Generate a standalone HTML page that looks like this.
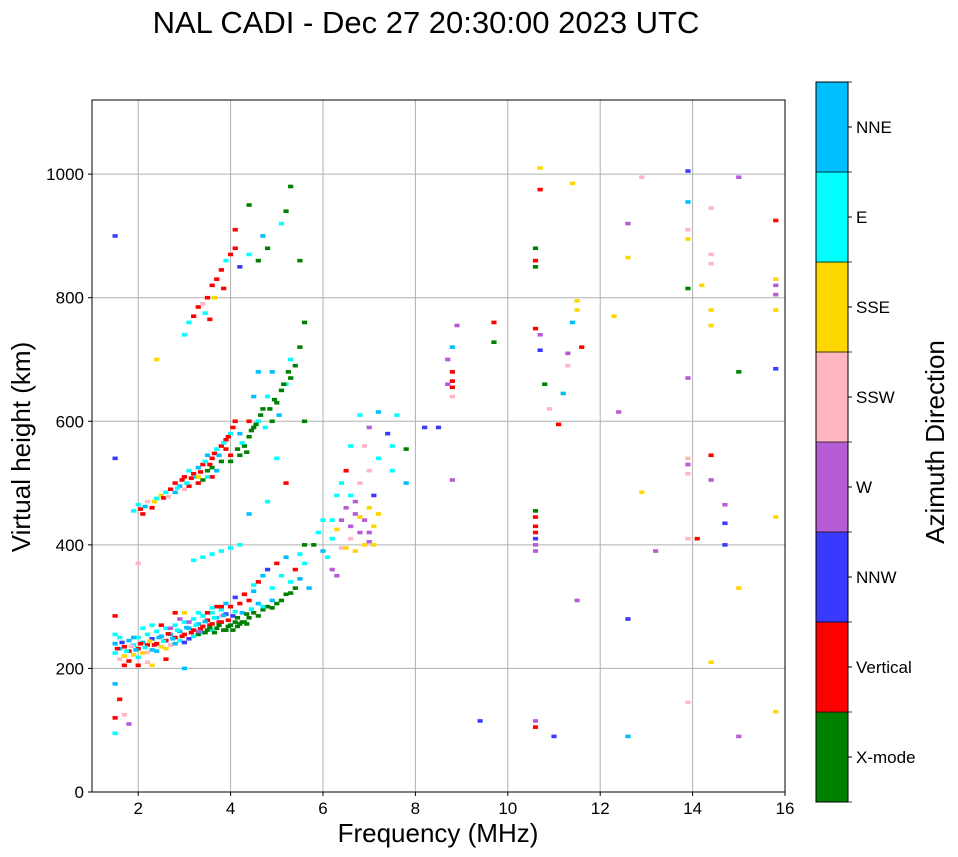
<!DOCTYPE html>
<html><head><meta charset="utf-8">
<style>
body{margin:0;background:#fff;font-family:"Liberation Sans",sans-serif;}
svg{display:block}
</style></head>
<body>
<svg id="chart" width="958" height="857" xmlns="http://www.w3.org/2000/svg">
<text x="426" y="33" font-size="31" text-anchor="middle">NAL CADI - Dec 27 20:30:00 2023 UTC</text>
<g id="grid"></g>
<g id="marks"></g>
<rect x="92" y="100" width="693" height="692" fill="none" stroke="#000" stroke-width="1"/>
<g id="axes" font-size="17"></g>
<text x="438" y="842" font-size="26" text-anchor="middle">Frequency (MHz)</text>
<text transform="translate(30,447) rotate(-90)" font-size="26" text-anchor="middle">Virtual height (km)</text>
<g id="cbar"></g>
<text transform="translate(944,442) rotate(-90)" font-size="26" text-anchor="middle">Azimuth Direction</text>
</svg>
<script>
const dirLabels = ["X-mode","Vertical","NNW","W","SSW","SSE","E","NNE"];
const dirColors = ["#008000","#ff0000","#3a3aff","#b65cd6","#ffb6c1","#ffd700","#00ffff","#00bfff"];
const xTicks = [2,4,6,8,10,12,14,16];
const yTicks = [0,200,400,600,800,1000];
// [freq MHz, height km, direction index]
const lowerTrace = [
[1.5,240,7],[1.5,225,6],[1.6,250,6],[1.6,215,4],[1.7,235,1],[1.7,220,5],[1.8,245,7],[1.8,228,1],[1.9,238,6],[1.9,222,5],
[2.0,250,6],[2.0,232,1],[2.1,242,7],[2.1,225,5],[2.2,255,6],[2.2,238,1],[2.3,248,2],[2.3,230,7],[2.4,260,6],[2.4,240,1],
[2.5,252,7],[2.5,235,5],[2.6,265,6],[2.6,245,1],[2.7,255,7],[2.7,238,4],[2.8,270,6],[2.8,250,1],[2.9,260,7],[2.9,245,6],
[3.0,275,6],[3.0,255,1],[3.1,265,7],[3.1,248,2],[3.2,280,6],[3.2,262,1],[3.3,272,7],[3.3,255,0],[3.4,285,6],[3.4,268,1],
[3.5,278,1],[3.5,262,0],[3.6,290,6],[3.6,272,1],[3.7,282,7],[3.7,265,0],[3.8,295,6],[3.8,275,1],[3.9,288,2],[3.9,262,0],
[4.0,300,1],[4.0,270,0],[4.1,292,6],[4.1,275,0],[4.2,272,0],[4.3,275,0],[4.4,310,1],[4.4,282,0],[4.5,325,7],[4.5,290,0],
[4.6,340,1],[4.6,285,0],[4.7,350,7],[4.7,295,0],[4.8,360,2],[4.8,300,0],[4.9,330,6],[4.9,298,0],[5.0,370,1],[5.0,305,0],
[5.1,350,6],[5.1,310,0],[5.2,380,7],[5.2,320,0],[5.3,340,6],[5.3,322,0],[5.4,360,1],[5.4,330,0],[5.5,345,7],[5.5,385,6],
[5.6,400,0],[5.6,370,6],[5.7,330,7],[5.8,400,0],[5.9,420,6],[6.0,440,6],[6.0,390,7],[6.1,380,6],[6.2,360,3],[6.3,350,3],
[1.6,232,7],[1.8,212,1],[2.0,218,6],[2.2,226,4],[2.4,228,7],[2.6,232,5],[2.8,240,7],[3.0,242,2],[3.2,252,6],[3.4,258,7],
[3.6,262,6],[3.8,285,4],[2.1,265,6],[2.5,270,1],[3.3,290,6],[3.7,300,1],[4.2,305,1],[1.7,205,1],[2.6,215,1],[1.5,255,6],
[1.55,232,1],[1.65,242,2],[1.75,228,6],[1.85,236,4],[1.95,230,7],[2.05,240,1],[2.15,234,6],[2.25,244,5],[2.35,238,1],[2.45,250,7],
[2.55,244,6],[2.65,256,1],[2.75,248,7],[2.85,262,6],[2.95,252,1],[3.05,266,7],[3.15,258,1],[3.25,270,6],[3.35,264,1],[3.45,276,7],
[3.55,270,1],[3.65,282,6],[3.75,275,1],[3.85,286,7],[3.95,278,1],[4.05,285,2],[4.15,282,0],[4.25,290,7],[4.35,288,0],[4.45,296,6],
[3.45,258,0],[3.55,266,0],[3.65,258,0],[3.75,270,0],[3.85,262,0],[3.95,268,0],[4.05,262,0],[4.15,268,0],[4.25,275,0],[4.35,272,0],
[3.5,290,1],[3.6,298,6],[3.8,300,1],[3.9,305,7],[4.1,315,2],[4.3,320,1],[4.5,335,6],[4.6,305,7],[4.7,300,6],[4.9,310,7],
[2.9,280,3],[3.1,275,3],[3.3,260,3],[2.7,265,3],[1.9,250,7],[2.3,270,6],[2.8,290,1],[3.0,290,5],[2.2,210,4],[2.0,205,1]
];
const clusterTrace = [
[6.2,410,6],[6.3,425,5],[6.4,440,3],[6.5,395,5],[6.5,460,3],[6.6,430,3],[6.6,480,6],[6.7,390,5],[6.7,450,3],[6.8,420,3],
[6.8,500,4],[6.9,400,5],[6.9,440,3],[7.0,460,5],[7.0,420,3],[7.0,520,4],[7.1,480,2],[7.1,400,5],[7.2,540,6],[6.4,500,6],
[6.5,520,1],[6.6,560,6],[6.9,560,4],[7.0,590,3],[7.2,450,5],[6.3,480,6],[7.5,520,6],[7.5,560,6],[7.8,500,7],[7.8,555,0],
[7.6,610,6],[7.4,580,2],[6.8,610,6],[6.6,410,4],[6.8,445,5],[7.0,405,3],[6.2,440,6],[6.4,395,4],[7.1,430,5],[6.7,470,3]
];
const secondHop = [
[1.9,455,6],[2.0,465,6],[2.1,450,1],[2.2,470,4],[2.3,460,1],[2.4,475,6],[2.5,480,5],[2.6,485,6],[2.7,490,1],[2.8,500,1],
[2.9,495,7],[3.0,510,1],[3.1,520,6],[3.2,515,1],[3.3,525,7],[3.4,530,1],[3.5,520,0],[3.5,545,7],[3.6,540,1],[3.7,555,6],
[3.8,560,1],[3.9,570,1],[4.0,535,0],[4.0,580,6],[4.1,600,1],[4.2,545,0],[4.3,560,0],[4.4,575,0],[4.5,590,0],[4.6,600,6],
[4.7,620,0],[4.8,640,6],[4.9,600,0],[5.0,630,0],[5.1,650,0],[5.2,660,6],[5.3,670,0],[5.4,690,0],[5.5,720,0],[5.3,700,6],
[4.5,640,7],[4.6,680,7],[4.9,680,7],[5.6,600,0],[5.6,760,0],[5.0,540,6],[5.2,500,1],[4.8,470,6],[4.4,450,7],[4.2,400,6],
[3.8,390,6],[3.4,380,6],[3.6,385,6],[4.0,395,6],[3.2,375,6],[3.3,500,1],[3.6,510,1],[2.8,485,7],[3.1,495,1],[3.9,555,1],
[2.05,458,1],[2.15,462,7],[2.35,470,5],[2.55,476,1],[2.65,478,4],[2.85,492,6],[2.95,505,1],[3.05,500,6],[3.15,508,1],[3.25,510,7],
[3.35,518,1],[3.45,535,6],[3.55,530,1],[3.65,548,1],[3.75,545,7],[3.85,565,6],[3.95,575,1],[4.05,590,1],[4.15,555,0],[4.25,565,6],
[4.35,550,0],[4.45,585,0],[4.55,595,0],[4.65,610,0],[4.75,590,6],[4.85,620,0],[4.95,635,0],[5.05,610,7],[5.15,660,0],[5.25,680,0],
[3.4,505,0],[3.6,525,0],[3.8,535,0],[4.0,545,1],[4.2,580,7],[4.4,600,1],[3.7,520,7],[3.5,510,6],[3.3,510,5],[3.0,490,4]
];
const thirdHop = [
[3.0,740,6],[3.1,760,6],[3.2,770,1],[3.3,785,1],[3.4,790,4],[3.5,800,1],[3.6,820,1],[3.7,830,1],[3.8,845,1],[3.9,860,6],
[4.0,870,1],[4.1,880,1],[4.2,850,2],[4.1,910,1],[4.4,870,6],[4.6,860,0],[4.8,880,0],[5.2,940,0],[5.3,980,0],[5.5,860,0],
[5.1,920,6],[4.4,950,0],[4.7,900,7],[3.45,775,6],[3.65,800,5],[3.85,815,1],[3.55,765,1]
];
const scatterEchoes = [
[1.5,900,2],[1.5,540,2],[1.5,120,1],[1.5,95,6],[1.6,150,1],[1.5,175,7],[1.7,125,4],[1.8,110,3],[1.5,285,1],[2.4,700,5],
[8.8,680,1],[8.8,665,1],[8.8,655,1],[8.8,640,4],[8.7,660,3],[8.7,700,3],[8.5,590,2],[8.2,590,2],[8.8,720,7],[8.9,755,3],
[8.8,505,3],[9.4,115,2],[9.7,760,1],[9.7,728,0],[10.6,880,0],[10.6,860,1],[10.6,850,0],[10.6,455,0],[10.6,445,1],[10.6,430,1],
[10.6,420,1],[10.6,410,2],[10.6,400,3],[10.6,390,3],[10.6,115,3],[10.6,105,1],[10.7,1010,5],[10.7,975,1],[10.6,750,1],[10.7,740,3],
[10.7,715,2],[10.8,660,0],[10.9,620,4],[11.1,595,1],[11.0,90,2],[11.2,645,7],[11.3,710,3],[11.3,690,4],[11.4,760,7],[11.4,985,5],
[11.5,795,5],[11.5,780,5],[11.6,720,1],[12.3,770,5],[12.4,615,3],[12.6,920,3],[12.6,865,5],[12.6,280,2],[12.6,90,7],[12.9,995,4],
[12.9,485,5],[13.2,390,3],[13.9,1005,2],[13.9,955,7],[13.9,910,4],[13.9,895,5],[13.9,815,0],[13.9,670,3],[13.9,540,4],[13.9,530,3],
[13.9,515,4],[13.9,410,4],[13.9,145,4],[14.1,410,1],[14.2,820,5],[14.4,945,4],[14.4,870,4],[14.4,855,4],[14.4,780,5],[14.4,755,5],
[14.4,545,1],[14.4,505,3],[14.4,210,5],[14.7,465,3],[14.7,400,2],[14.7,435,2],[15.0,995,3],[15.0,680,0],[15.0,330,5],[15.0,90,3],
[15.8,925,1],[15.8,830,5],[15.8,820,3],[15.8,805,3],[15.8,780,5],[15.8,685,2],[15.8,445,5],[15.8,130,5],[11.5,310,3],[7.2,615,7],
[2.0,370,4],[3.0,200,7],[2.3,205,5]
];

const NS="http://www.w3.org/2000/svg";
const X0=92,X1=785,Y0=792,Y1=100,FMIN=1,FMAX=16,HMIN=0,HMAX=1120;
function xScale(f){return X0+(f-FMIN)/(FMAX-FMIN)*(X1-X0);}
function yScale(h){return Y0-(h-HMIN)/(HMAX-HMIN)*(Y0-Y1);}
function mk(tag,attrs,parent){const e=document.createElementNS(NS,tag);for(const k in attrs)e.setAttribute(k,attrs[k]);parent.appendChild(e);return e;}

const grid=document.getElementById('grid'),axes=document.getElementById('axes');
xTicks.forEach(t=>{const x=xScale(t);
 const l=mk('line',{x1:x,x2:x,y1:Y1,y2:Y0,stroke:'#b0b0b0','stroke-width':1},grid);
 
 
 mk('line',{x1:x,x2:x,y1:Y0,y2:Y0+4,stroke:'#000'},axes);
 const tx=mk('text',{x:x,y:Y0+22,'text-anchor':'middle'},axes);tx.textContent=t;
 
 
});
yTicks.forEach(t=>{const y=yScale(t);
 const l=mk('line',{x1:X0,x2:X1,y1:y,y2:y,stroke:'#b0b0b0','stroke-width':1},grid);
 
 
 mk('line',{x1:X0-4,x2:X0,y1:y,y2:y,stroke:'#000'},axes);
 const tx=mk('text',{x:X0-8,y:y+6,'text-anchor':'end'},axes);tx.textContent=t;
 
 
});

const marks=document.getElementById('marks');
[lowerTrace,clusterTrace,secondHop,thirdHop,scatterEchoes].forEach(arr=>arr.forEach(p=>{
 const x=xScale(p[0]),y=yScale(p[1]);
 const r=mk('rect',{x:x-2.6,y:y-1.8,width:5.2,height:3.6,fill:dirColors[p[2]]},marks);
 
 
}));

const cb=document.getElementById('cbar');
const CT=82,CB=802,CX=816,CW=32,seg=(CB-CT)/dirLabels.length;
dirLabels.forEach((lab,i)=>{
 const y=CB-(i+1)*seg;
 const r=mk('rect',{x:CX,y:y,width:CW,height:seg+0.5,fill:dirColors[i]},cb);
 
 
 mk('line',{x1:CX+CW,x2:CX+CW+4,y1:y+seg/2,y2:y+seg/2,stroke:'#000'},cb);
 const t=mk('text',{x:856,y:y+seg/2+6,'font-size':17},cb);t.textContent=lab;
 
 
});
mk('rect',{x:CX,y:CT,width:CW,height:CB-CT,fill:'none',stroke:'#000'},cb);
for(let i=0;i<=dirLabels.length;i++){const y=CT+i*seg;
 mk('line',{x1:CX,x2:CX+CW+4,y1:y,y2:y,stroke:'#000','stroke-width':0.8},cb);}
</script>
</body></html>
